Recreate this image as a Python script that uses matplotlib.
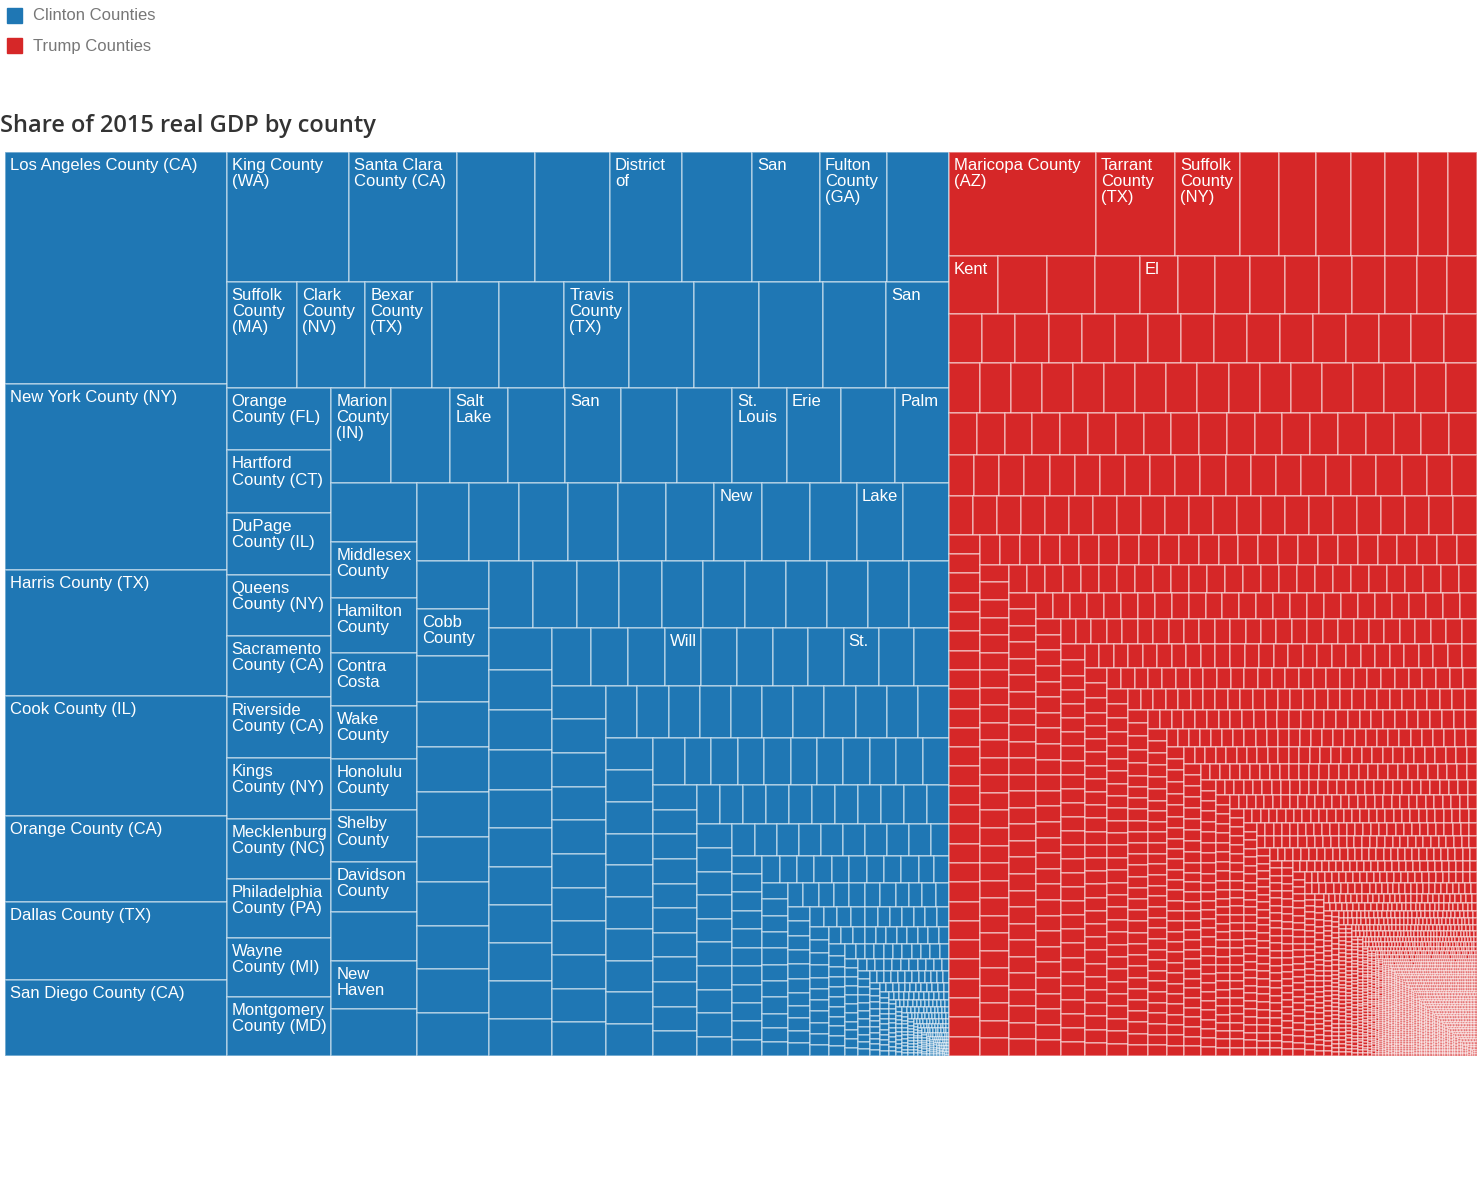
import matplotlib.pyplot as plt
from matplotlib.patches import Rectangle
from matplotlib.collections import PatchCollection

# Tile sizes (relative GDP, largest county first)
clinton_sizes = [
    515, 413, 280, 266, 191, 173, 169,
    158.6, 140.4, 101.4, 97.5, 93.6, 91.0, 88.4, 87.1, 80.6,
    74.5, 72.5, 71.0, 70.0, 69.5, 69.0, 68.7, 68.4, 67.8, 67.2, 66.7,
    66.0, 65.5, 65.0, 64.5, 64.0, 63.8, 63.5, 63.0, 62.5, 62.0, 61.6,
    57.5, 56.5, 55.5, 54.5, 54.0, 53.5, 53.0, 52.5, 52.0, 51.9, 51.4,
    50.0, 48.5, 47.0, 46.0, 45.0, 44.5, 44.0, 43.0, 42.0, 41.5, 40.4,
    40.0, 39.2, 38.6, 38.2, 37.8, 37.6, 37.3, 37.0, 36.5, 36.2, 35.8,
    34.3, 33.6, 33.2, 32.7, 32.4, 32.2, 31.9, 31.7, 31.5, 31.2, 31.0,
    29.6, 29.0, 28.6, 28.2, 27.9, 27.8, 27.6, 27.4, 27.2, 27.2, 27.0,
    26.2, 25.6, 25.1, 24.7, 24.4, 24.3, 24.1, 23.9, 23.7, 23.6, 23.4,
    22.4, 21.6, 21.2, 21.0, 20.8, 20.7, 20.6, 20.5, 20.4, 20.3, 20.2,
]
# small counties: (size, how many of about that size)
clinton_tail = [
    (18.4, 11), (16.4, 11), (14.9, 11), (12.4, 10), (10.7, 11), (9.1, 10),
    (8.5, 10), (6.9, 10), (5.5, 11), (4.8, 10), (4.2, 10), (3.65, 10),
    (3.18, 10), (2.77, 10), (2.4, 10), (2.1, 10), (1.82, 10), (1.58, 10),
    (1.38, 10), (1.2, 10), (1.04, 10), (0.9, 10), (0.79, 10), (0.68, 10),
    (0.6, 10), (0.52, 10), (0.45, 11), (0.39, 12), (0.34, 13), (0.3, 14),
    (0.26, 15), (0.22, 16), (0.19, 18), (0.16, 20), (0.13, 22), (0.11, 24),
    (0.09, 26), (0.07, 28), (0.05, 32),
]
# labels as they show in the tiles (index into the sorted sizes)
clinton_labels = {
    0: "Los Angeles County (CA)", 1: "New York County (NY)",
    2: "Harris County (TX)", 3: "Cook County (IL)", 4: "Orange County (CA)",
    5: "Dallas County (TX)", 6: "San Diego County (CA)",
    7: "King County\n(WA)", 8: "Santa Clara\nCounty (CA)", 11: "District\nof",
    13: "San", 14: "Fulton\nCounty\n(GA)",
    16: "Suffolk\nCounty\n(MA)", 17: "Clark\nCounty\n(NV)",
    18: "Bexar\nCounty\n(TX)", 21: "Travis\nCounty\n(TX)", 26: "San",
    27: "Orange\nCounty (FL)", 28: "Hartford\nCounty (CT)",
    29: "DuPage\nCounty (IL)", 30: "Queens\nCounty (NY)",
    31: "Sacramento\nCounty (CA)", 32: "Riverside\nCounty (CA)",
    33: "Kings\nCounty (NY)", 34: "Mecklenburg\nCounty (NC)",
    35: "Philadelphia\nCounty (PA)", 36: "Wayne\nCounty (MI)",
    37: "Montgomery\nCounty (MD)",
    38: "Marion\nCounty\n(IN)", 40: "Salt\nLake", 42: "San",
    45: "St.\nLouis", 46: "Erie", 48: "Palm",
    50: "Middlesex\nCounty", 51: "Hamilton\nCounty", 52: "Contra\nCosta",
    53: "Wake\nCounty", 54: "Honolulu\nCounty", 55: "Shelby\nCounty",
    56: "Davidson\nCounty", 58: "New\nHaven",
    66: "New", 69: "Lake", 72: "Cobb\nCounty", 107: "Will", 112: "St.",
}

trump_sizes = [
    152.9, 82.2, 67.6, 40.6, 38.5, 36.4, 35.4, 34.3, 31.2, 30.2,
    28.5, 28.5, 27.3, 26.1, 22.5, 21.0, 20.5, 20.0, 19.6, 19.3, 19.0, 18.6,
    17.6, 17.3,
    16.5, 16.5, 16.5, 16.4, 16.4, 16.4, 16.4, 16.4, 16.4, 16.4, 16.4,
    16.3, 16.3, 16.3, 16.3, 16.3,
]
trump_tail = [
    (15.6, 17), (11.6, 19), (10.3, 21), (9.3, 22),
    (6.0, 52), (5.02, 54), (4.5, 54), (3.86, 57), (3.41, 57), (2.99, 57),
    (2.6, 58), (2.23, 59), (2.0, 59), (1.79, 59), (1.58, 57), (1.39, 58),
    (1.21, 58), (1.13, 57), (1.04, 56), (0.97, 55), (0.89, 54), (0.82, 53),
    (0.75, 52), (0.62, 54), (0.5, 56), (0.4, 60), (0.3, 65), (0.26, 67),
    (0.22, 69), (0.19, 72), (0.155, 75), (0.13, 79), (0.11, 83),
    (0.094, 86), (0.08, 89), (0.067, 94), (0.056, 100),
    (0.05, 900), (0.04, 925),
]
trump_labels = {
    0: "Maricopa County\n(AZ)", 1: "Tarrant\nCounty\n(TX)",
    2: "Suffolk\nCounty\n(NY)", 10: "Kent", 14: "El",
}

group_names = ["Clinton Counties", "Trump Counties"]
group_colors = ["#1f77b4", "#d62728"]

PHI = (1 + 5 ** 0.5) / 2


def expand(sizes, tail):
    """Sorted list of all tile sizes."""
    vals = list(sizes)
    for size, count in tail:
        vals += [size] * count
    return vals


def squarify(values, x0, y0, x1, y1, ratio=PHI):
    """Squarified treemap (golden ratio variant), y grows downwards."""
    rects = []
    total = float(sum(values))
    n = len(values)
    i0 = 0
    while i0 < n:
        dx, dy = x1 - x0, y1 - y0
        if total <= 0 or dx <= 0 or dy <= 0:
            rects += [(x0, y0, 0, 0)] * (n - i0)
            break
        i1 = i0 + 1
        s = values[i0]
        vmin = vmax = s
        alpha = max(dy / dx, dx / dy) / (total * ratio)
        beta = s * s * alpha
        best = max(vmax / beta, beta / vmin)
        while i1 < n:
            v = values[i1]
            s2 = s + v
            lo, hi = min(vmin, v), max(vmax, v)
            beta = s2 * s2 * alpha
            r = max(hi / beta, beta / lo)
            if r > best:
                break
            s, vmin, vmax, best = s2, lo, hi, r
            i1 += 1
        row = values[i0:i1]
        if dx < dy:
            # row across the top
            yb = y0 + dy * s / total
            x = x0
            for v in row:
                w = dx * v / s
                rects.append((x, y0, w, yb - y0))
                x += w
            y0 = yb
        else:
            # column down the left
            xb = x0 + dx * s / total
            y = y0
            for v in row:
                h = dy * v / s
                rects.append((x0, y, xb - x0, h))
                y += h
            x0 = xb
        total -= s
        i0 = i1
    return rects


clinton_vals = expand(clinton_sizes, clinton_tail)
trump_vals = expand(trump_sizes, trump_tail)

fig = plt.figure(figsize=(14.84, 11.83), dpi=100)
ax = fig.add_axes([5 / 1484, 1 - 1056 / 1183, 1472 / 1484, 904 / 1183])
W = fig.get_figwidth() * fig.dpi * 1472 / 1484
H = fig.get_figheight() * fig.dpi * 904 / 1183
ax.set_xlim(0, W)
ax.set_ylim(H, 0)
ax.axis("off")

groups = squarify([sum(clinton_vals), sum(trump_vals)], 0, 0, W, H)
for (gx, gy, gw, gh), vals, labels, color in zip(
        groups, [clinton_vals, trump_vals], [clinton_labels, trump_labels],
        group_colors):
    tiles = squarify(vals, gx, gy, gx + gw, gy + gh)
    patches = [Rectangle((x, y), w, h) for (x, y, w, h) in tiles]
    pc = PatchCollection(patches, facecolor=color,
                         edgecolor=(1, 1, 1, 0.5), linewidth=1.1)
    ax.add_collection(pc)
    for i, text in labels.items():
        x, y, w, h = tiles[i]
        ax.text(x + 5, y + 6, text, color="white", fontsize=12,
                family="Liberation Sans", ha="left", va="top",
                linespacing=1.1)

# legend
for k, (name, color) in enumerate(zip(group_names, group_colors)):
    yc = 15 + 30 * k
    fig.patches.append(Rectangle((7 / 1484, 1 - (yc + 8) / 1183),
                                 15 / 1484, 15 / 1183,
                                 transform=fig.transFigure, color=color))
    fig.text(33 / 1484, 1 - (yc + 1) / 1183, name, fontsize=12,
             color="#777777", family="Liberation Sans",
             va="center", ha="left")

fig.text(0, 1 - 126 / 1183, "Share of 2015 real GDP by county",
         fontsize=17, color="#333333", family="Open Sans",
         weight="semibold", va="center", ha="left")

fig.savefig("out.png", dpi=100)
